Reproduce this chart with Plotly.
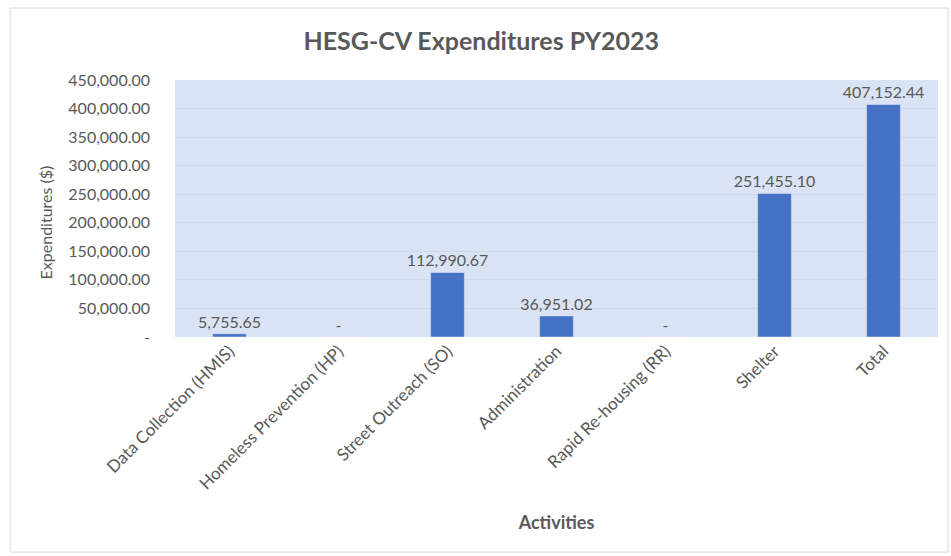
import plotly.graph_objects as go

activities = ["Data Collection (HMIS)", "Homeless Prevention (HP)", "Street Outreach (SO)",
              "Administration", "Rapid Re-housing (RR)", "Shelter", "Total"]
expenditures = [5755.65, 0, 112990.67, 36951.02, 0, 251455.10, 407152.44]
y_ticks = [0, 50000, 100000, 150000, 200000, 250000, 300000, 350000, 400000, 450000]
y_tick_text = ["-"] + [f"{v:,.2f}" for v in y_ticks[1:]]

labels = [f"{v:,.2f}" if v else "-" for v in expenditures]

grey = "#595959"
font = "Lato, 'Open Sans', sans-serif"

fig = go.Figure(go.Bar(
    x=activities, y=expenditures,
    marker_color="#4472C4",
    text=labels, textposition="outside", constraintext="none",
    textfont=dict(size=16, color=grey),
    cliponaxis=False,
))

fig.update_layout(
    width=951, height=556,
    margin=dict(l=175, r=13, t=80, b=219),
    paper_bgcolor="white", plot_bgcolor="#DAE3F3",
    font=dict(family=font, color=grey, size=16),
    bargap=0.69,
    showlegend=False,
    title=dict(text="<b>HESG-CV Expenditures PY2023</b>", x=0.506, xref="container",
               y=0.925, yanchor="middle", font=dict(size=25, color=grey)),
    xaxis=dict(tickangle=-45, tickfont=dict(size=17, color=grey), showgrid=False,
               ticks="", title=dict(text="<b>Activities</b>", font=dict(size=18, color=grey), standoff=24)),
    yaxis=dict(range=[0, 450000], tickvals=y_ticks, ticktext=y_tick_text,
               tickfont=dict(size=16, color=grey), gridcolor="#D0D8EA", zeroline=False,
               ticklabelstandoff=24),
    annotations=[dict(text="Expenditures ($)", xref="paper", yref="paper",
                      x=-0.17, y=0.447, xanchor="center", yanchor="middle",
                      textangle=-90, showarrow=False, font=dict(size=16, color=grey))],
    shapes=[dict(type="rect", xref="paper", yref="paper",
                 x0=-0.216, x1=1.013, y0=-0.837, y1=1.28,
                 line=dict(color="#D9D9D9", width=1))],
)

fig.write_html("out.html", post_script="document.body.style.margin='0';",
               config={"displayModeBar": False})
